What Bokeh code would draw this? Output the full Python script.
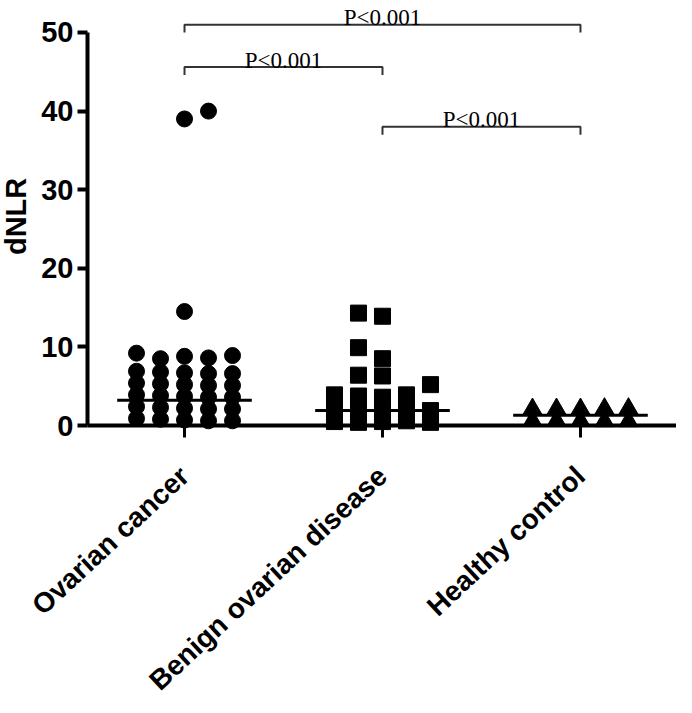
import math
from bokeh.plotting import figure
from bokeh.models import Range1d, FixedTicker
from bokeh.core.properties import value
from bokeh.embed import file_html
from bokeh.resources import INLINE

# ---------------- data ----------------
categories = ["Ovarian cancer", "Benign ovarian disease", "Healthy control"]

ovarian_dnlr = [
    0.7, 0.6, 0.8, 0.6, 0.9,
    2.2, 2.1, 2.3, 2.1, 2.4,
    3.7, 3.6, 3.8, 3.6, 3.9,
    5.2, 5.1, 5.3, 5.1, 5.4,
    6.7, 6.6, 6.8, 6.6, 6.9,
    8.8, 8.6, 8.5, 8.9, 9.2,
    14.5, 39.0, 40.0,
]
benign_dnlr = [
    0.5, 0.4, 0.6, 0.5, 0.4,
    2.0, 1.9, 2.1, 2.0, 1.9,
    3.6, 3.75, 3.9, 3.9,
    6.3, 6.4, 5.2, 8.5, 9.9, 13.9, 14.3,
]
healthy_dnlr = [
    0.6, 0.55, 0.6, 0.55, 0.6,
    2.1, 2.15, 2.1, 2.15, 2.1,
]
group_means = [3.2, 1.9, 1.3]
y_ticks = [0, 10, 20, 30, 40, 50]
y_title = "dNLR"
comparisons = [(1, 3), (1, 2), (2, 3)]
p_labels = ["P<0.001", "P<0.001", "P<0.001"]

# ---------------- layout ----------------
W, H = 676, 697
AXIS_LEFT_PX = 87        # y axis sits this many px right of the plot's left edge
AXIS_BOTTOM_PX = 425     # x axis (y = 0) sits this many px below the plot's top
X_AXIS = 0.51            # data x where the y axis is drawn
X1 = 3.485
Y1 = 54.07
PX_X = (W - AXIS_LEFT_PX) / (X1 - X_AXIS)
PX_Y = AXIS_BOTTOM_PX / Y1
X0 = X_AXIS - AXIS_LEFT_PX / PX_X
Y0 = Y1 - H / PX_Y

FONT = "Liberation Sans"


def swarm(vals, center, first_side=1, spacing_px=24, dv=1.45):
    """Prism-like scatter-dot arrangement: columns at a fixed spacing."""
    s = first_side
    order = [0, s, -s, 2 * s, -2 * s, 3 * s, -3 * s]
    placed = []
    xs = []
    for v in vals:
        for k in order:
            if all(not (kk == k and abs(v - vv) < dv) for kk, vv in placed):
                placed.append((k, v))
                xs.append(center + k * spacing_px / PX_X)
                break
    return xs


p = figure(width=W, height=H, x_range=Range1d(X0, X1), y_range=Range1d(Y0, Y1),
           output_backend="svg", toolbar_location=None,
           min_border_left=0, min_border_right=0,
           min_border_top=0, min_border_bottom=0)
p.grid.visible = False
p.outline_line_color = None
p.background_fill_color = "white"
p.border_fill_color = "white"

# y axis, pinned at x = X_AXIS
ya = p.yaxis[0]
ya.fixed_location = X_AXIS
ya.ticker = FixedTicker(ticks=y_ticks)
ya.bounds = (0, 50)
ya.axis_line_width = 4
ya.axis_line_color = "black"
ya.major_tick_line_width = 4
ya.major_tick_line_color = "black"
ya.major_tick_out = 10
ya.major_tick_in = 0
ya.minor_tick_line_color = None
ya.major_label_standoff = 4
ya.major_label_text_font = FONT
ya.major_label_text_font_style = "bold"
ya.major_label_text_font_size = "29px"
ya.major_label_text_color = "black"

# y axis title
p.text(x=[X_AXIS - (AXIS_LEFT_PX - 15) / PX_X], y=[26.6], text=[y_title],
       angle=math.pi / 2, text_align="center", text_baseline="middle",
       text_font=value(FONT), text_font_style="bold", text_font_size="29px",
       text_color="black")

# x axis, pinned at y = 0
xa = p.xaxis[0]
xa.fixed_location = 0
xa.bounds = (X_AXIS, X1)
xa.ticker = FixedTicker(ticks=[1, 2, 3])
xa.major_label_overrides = {i + 1: c for i, c in enumerate(categories)}
xa.major_label_orientation = math.radians(43)
xa.axis_line_width = 4
xa.axis_line_color = "black"
xa.major_tick_line_width = 3
xa.major_tick_line_color = "black"
xa.major_tick_out = 12
xa.major_tick_in = 0
xa.minor_tick_line_color = None
xa.major_label_standoff = 34
xa.major_label_text_font = FONT
xa.major_label_text_font_style = "bold"
xa.major_label_text_font_size = "28px"
xa.major_label_text_color = "black"

# points
p.scatter(swarm(ovarian_dnlr, 1, 1), ovarian_dnlr, marker="circle", size=16,
          fill_color="black", line_color="black")
p.scatter(swarm(benign_dnlr, 2, -1), benign_dnlr, marker="square", size=16,
          fill_color="black", line_color="black")
p.scatter(swarm(healthy_dnlr, 3, 1), healthy_dnlr, marker="triangle", size=19,
          fill_color="black", line_color="black")

# mean lines
half = 0.34
xc = [1, 2, 3]
p.segment(x0=[c - half for c in xc], x1=[c + half for c in xc],
          y0=group_means, y1=group_means, line_width=3, line_color="black")

# significance brackets
bracket_y = [51.0, 45.6, 38.0]
drop = 1.0
for (a, b), yb, lab in zip(comparisons, bracket_y, p_labels):
    p.line([a, a, b, b], [yb - drop, yb, yb, yb - drop],
           line_width=2, line_color="#333333")
    p.text(x=[(a + b) / 2], y=[yb + 0.9], text=[lab],
           text_font=value("Liberation Serif"), text_font_size="23px",
           text_align="center", text_baseline="alphabetic", text_color="black")

open("out.html", "w").write(file_html(p, INLINE))
